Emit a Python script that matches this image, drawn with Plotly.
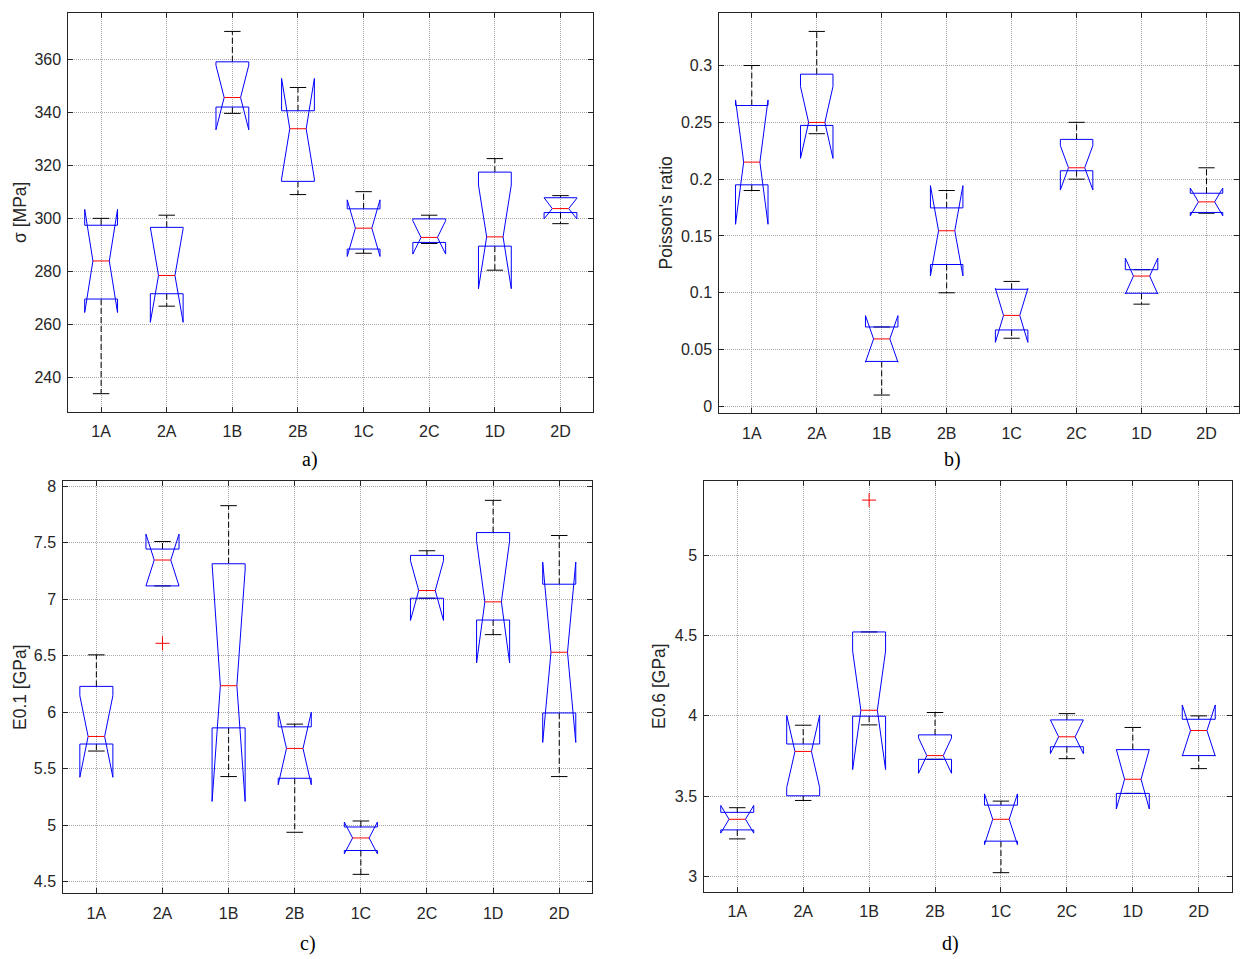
import plotly.graph_objects as go

categories = ['1A', '2A', '1B', '2B', '1C', '2C', '1D', '2D']
positions = [1, 2, 3, 4, 5, 6, 7, 8]

# panel a) sigma [MPa]
a_q1 = [269.5, 271.5, 342.1, 314.0, 288.4, 290.9, 289.5, 302.2]
a_med = [283.9, 278.4, 345.7, 333.9, 296.3, 292.8, 293.0, 303.7]
a_q3 = [297.4, 296.6, 359.2, 340.7, 303.6, 299.8, 317.5, 307.8]
a_notch = [19.5, 17.7, 12.2, 19.0, 10.7, 6.3, 19.6, 3.9]
a_lw = [233.7, 266.8, 339.7, 309.0, 286.8, 290.5, 280.4, 298.0]
a_uw = [300.0, 301.2, 370.7, 349.5, 310.1, 301.2, 322.6, 308.6]
a_out_x = []
a_out_y = []

# panel b) Poisson's ratio
b_q1 = [0.195, 0.2473, 0.0396, 0.1249, 0.0673, 0.2074, 0.0996, 0.1707]
b_med = [0.215, 0.2499, 0.0594, 0.1546, 0.0801, 0.2100, 0.1147, 0.1800]
b_q3 = [0.2648, 0.2924, 0.0699, 0.1747, 0.1031, 0.2350, 0.1203, 0.1876]
b_notch = [0.0547, 0.0316, 0.0205, 0.0397, 0.0237, 0.0195, 0.0158, 0.0122]
b_lw = [0.19, 0.24, 0.01, 0.10, 0.06, 0.20, 0.09, 0.17]
b_uw = [0.30, 0.33, 0.0699, 0.19, 0.11, 0.25, 0.1203, 0.21]
b_out_x = []
b_out_y = []

# panel c) E0.1 [GPa]
c_q1 = [5.718, 7.117, 5.861, 5.415, 4.776, 7.008, 6.815, 5.993]
c_med = [5.785, 7.346, 6.234, 5.679, 4.887, 7.076, 6.976, 6.530]
c_q3 = [6.228, 7.443, 7.313, 5.870, 4.984, 7.387, 7.589, 7.132]
c_notch = [0.361, 0.229, 1.024, 0.321, 0.140, 0.264, 0.540, 0.798]
c_lw = [5.656, 7.117, 5.430, 4.937, 4.565, 7.008, 6.686, 5.430]
c_uw = [6.507, 7.510, 7.827, 5.894, 5.037, 7.428, 7.874, 7.563]
c_out_x = [2]
c_out_y = [6.609]

# panel d) E0.6 [GPa]
d_q1 = [3.291, 3.503, 3.998, 3.730, 3.221, 3.808, 3.518, 3.753]
d_med = [3.357, 3.779, 4.035, 3.753, 3.357, 3.870, 3.606, 3.909]
d_q3 = [3.400, 3.825, 4.522, 3.882, 3.445, 3.975, 3.790, 3.979]
d_notch = [0.086, 0.225, 0.369, 0.110, 0.158, 0.105, 0.185, 0.159]
d_lw = [3.235, 3.474, 3.944, 3.730, 3.025, 3.734, 3.518, 3.672]
d_uw = [3.429, 3.942, 4.522, 4.021, 3.470, 4.014, 3.928, 4.000]
d_out_x = [3]
d_out_y = [5.342]

y_titles = ['σ [MPa]', "Poisson's ratio", 'E0.1 [GPa]', 'E0.6 [GPa]']
captions = ['a)', 'b)', 'c)', 'd)']

panels = [
    (a_q1, a_med, a_q3, a_notch, a_lw, a_uw, a_out_x, a_out_y),
    (b_q1, b_med, b_q3, b_notch, b_lw, b_uw, b_out_x, b_out_y),
    (c_q1, c_med, c_q3, c_notch, c_lw, c_uw, c_out_x, c_out_y),
    (d_q1, d_med, d_q3, d_notch, d_lw, d_uw, d_out_x, d_out_y),
]

W, H = 1240, 959
# plot areas in pixels (left, top, right, bottom)
boxes_px = [
    (68.3, 10.3, 593.3, 411.0),
    (719.3, 10.3, 1239.0, 412.5),
    (63.3, 480.3, 592.3, 895.0),
    (704.3, 480.3, 1231.7, 893.3),
]
y_ranges = [[226.83, 377.57], [-0.0061, 0.346], [4.397, 8.047], [2.907, 5.462]]
y_dticks = [20, 0.05, 0.5, 0.5]
y_title_px = [(20.5, 210.5), (665.5, 211), (20, 687.6), (659.5, 687)]
caption_px = [(310, 459), (952, 459), (308, 945), (950, 945)]

HALF_BOX = 0.25     # box half-width (x units)
HALF_NOTCH = 0.125  # half-width at the notch / median
HALF_CAP = 0.125    # whisker cap half-width
BLUE = 'rgb(0,0,255)'
RED = 'rgb(255,0,0)'
AXC = '#262626'
TICKFONT = dict(family='Liberation Sans, Arial, sans-serif', size=16, color=AXC)

fig = go.Figure()
layout = dict(
    width=W, height=H, margin=dict(l=0, r=0, t=0, b=0),
    paper_bgcolor='white', plot_bgcolor='white', showlegend=False,
    annotations=[],
)

for i, (q1, med, q3, notch, lw, uw, ox, oy) in enumerate(panels):
    n = '' if i == 0 else str(i + 1)
    xa, ya = 'x' + n, 'y' + n
    L, T, R, B = boxes_px[i]

    # dashed whiskers
    wx, wy = [], []
    for p, a, b, c, d in zip(positions, lw, q1, q3, uw):
        wx += [p, p, None, p, p, None]
        wy += [c, d, None, b, a, None]
    fig.add_trace(go.Scatter(x=wx, y=wy, mode='lines',
                             line=dict(color='black', width=1, dash='6px,3px'),
                             xaxis=xa, yaxis=ya, hoverinfo='skip'))
    # whisker caps
    cx, cy = [], []
    for p, a, d in zip(positions, lw, uw):
        cx += [p - HALF_CAP, p + HALF_CAP, None, p - HALF_CAP, p + HALF_CAP, None]
        cy += [d, d, None, a, a, None]
    fig.add_trace(go.Scatter(x=cx, y=cy, mode='lines',
                             line=dict(color='black', width=1),
                             xaxis=xa, yaxis=ya, hoverinfo='skip'))

    # notched box outlines (MATLAB style)
    bx, by = [], []
    for p, a, m, b, s in zip(positions, q1, med, q3, notch):
        ln, un = m - s, m + s
        bx += [p - HALF_BOX, p - HALF_BOX, p - HALF_NOTCH, p - HALF_BOX, p - HALF_BOX,
               p + HALF_BOX, p + HALF_BOX, p + HALF_NOTCH, p + HALF_BOX, p + HALF_BOX,
               p - HALF_BOX, None]
        by += [a, ln, m, un, b, b, un, m, ln, a, a, None]
    fig.add_trace(go.Scatter(x=bx, y=by, mode='lines',
                             line=dict(color=BLUE, width=1),
                             xaxis=xa, yaxis=ya, hoverinfo='skip'))

    # red medians
    mx, my = [], []
    for p, m in zip(positions, med):
        mx += [p - HALF_NOTCH, p + HALF_NOTCH, None]
        my += [m, m, None]
    fig.add_trace(go.Scatter(x=mx, y=my, mode='lines',
                             line=dict(color=RED, width=1),
                             xaxis=xa, yaxis=ya, hoverinfo='skip'))
    # outliers
    if ox:
        fig.add_trace(go.Scatter(x=ox, y=oy, mode='markers',
                                 marker=dict(symbol='cross-thin', size=10,
                                             line=dict(color=RED, width=1)),
                                 xaxis=xa, yaxis=ya, hoverinfo='skip'))

    common = dict(showline=True, linecolor=AXC, linewidth=1, mirror='ticks',
                  ticks='inside', ticklen=5, tickcolor=AXC, tickwidth=1,
                  showgrid=True, gridcolor='#a8a8a8', griddash='1px,1px', gridwidth=1,
                  zeroline=False, tickfont=TICKFONT)
    layout['xaxis' + n] = dict(common, domain=[L / W, R / W], anchor=ya,
                               range=[0.5, 8.5], tickmode='array',
                               tickvals=positions, ticktext=categories,
                               ticklabelstandoff=5)
    layout['yaxis' + n] = dict(common, domain=[1 - B / H, 1 - T / H], anchor=xa,
                               range=y_ranges[i], dtick=y_dticks[i], tick0=0,
                               ticklabelstandoff=3)

    tx, ty = y_title_px[i]
    layout['annotations'].append(dict(
        text=y_titles[i], x=tx / W, y=1 - ty / H, xref='paper', yref='paper',
        xanchor='center', yanchor='middle', textangle=-90, showarrow=False,
        font=dict(family='Liberation Sans, Arial, sans-serif', size=17.5, color=AXC)))
    cxp, cyp = caption_px[i]
    layout['annotations'].append(dict(
        text=captions[i], x=cxp / W, y=1 - cyp / H, xref='paper', yref='paper',
        xanchor='center', yanchor='middle', showarrow=False,
        font=dict(family='Liberation Serif, Times New Roman, serif', size=20, color='black')))

fig.update_layout(**layout)
fig.write_html('out.html', config={'displayModeBar': False},
               post_script="document.body.style.margin='0';document.body.style.padding='0';")
